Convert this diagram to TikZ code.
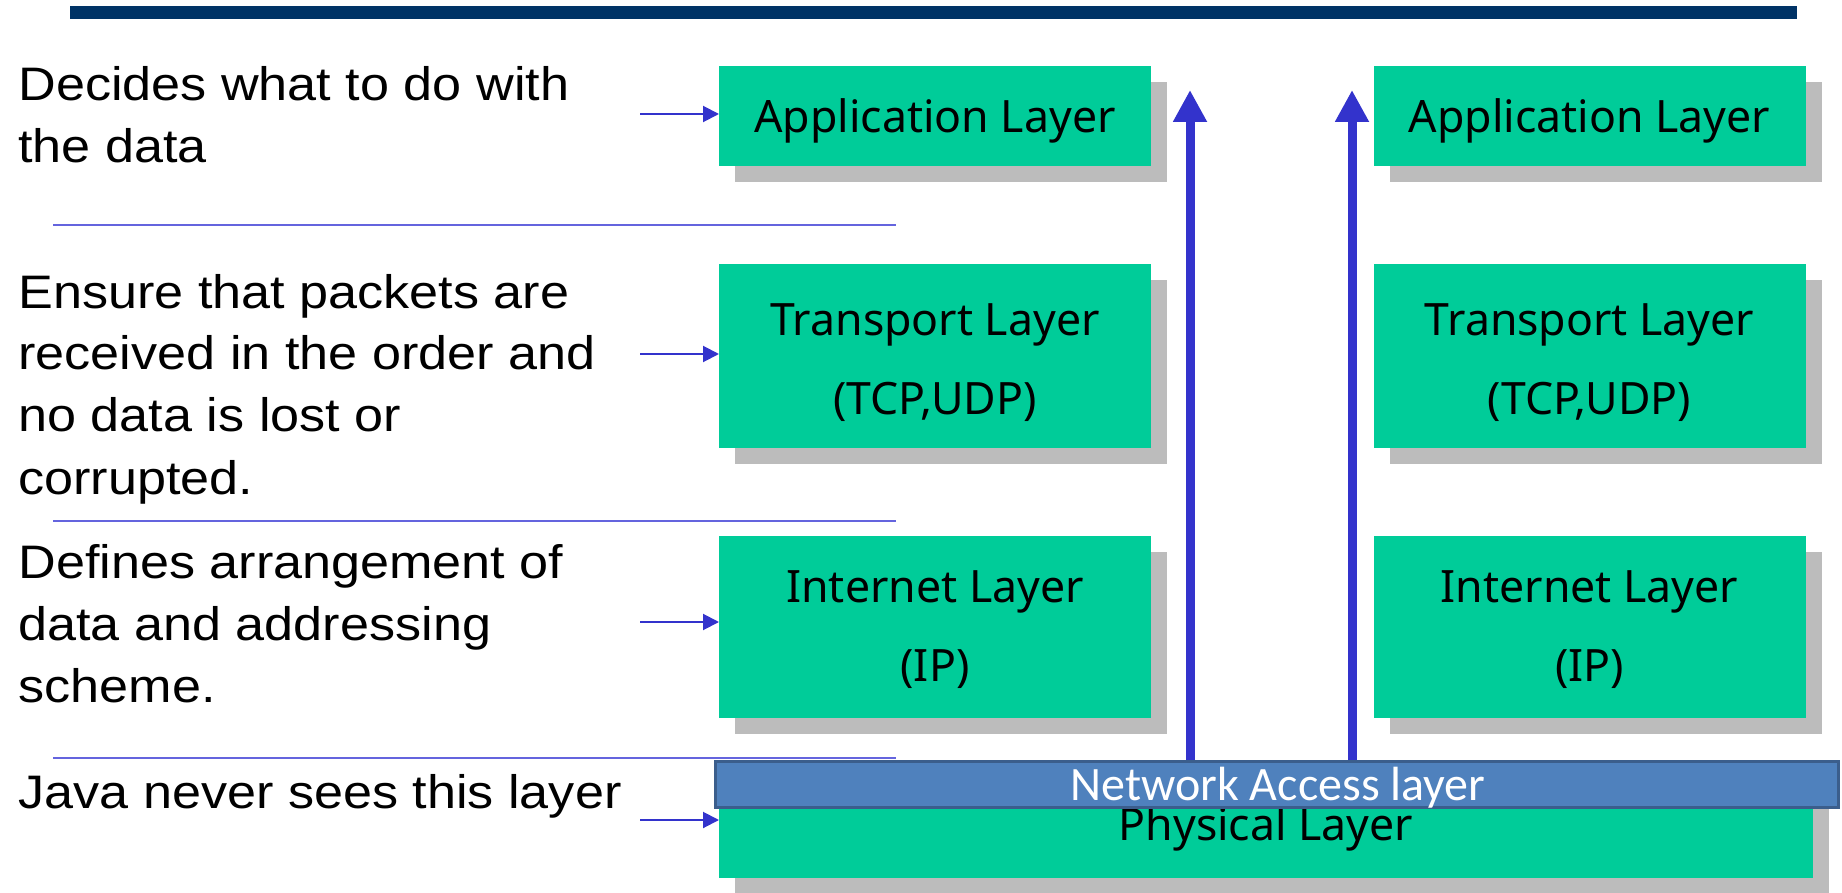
\documentclass[tikz,border=0pt]{standalone}
\usepackage{fontspec}
\usetikzlibrary{shadows,arrows.meta,calc}
\newfontfamily\notefont[FakeStretch=1.11]{Liberation Sans}
\newfontfamily\boxfont{Noto Sans}
\newfontfamily\netfont{Carlito}
\definecolor{headerblue}{HTML}{003366}
\definecolor{layergreen}{HTML}{00CC99}
\definecolor{shadowgray}{HTML}{BCBCBC}
\definecolor{netfill}{HTML}{4F81BD}
\definecolor{netline}{HTML}{3B5E8C}
\definecolor{arrowblue}{HTML}{3333CC}
\definecolor{rulecolor}{HTML}{6464DE}
\begin{document}
\begin{tikzpicture}[x=0.5pt,y=-0.5pt,
  layer/.style={fill=layergreen, inner sep=0pt, outer sep=0pt,
    general shadow={fill=shadowgray, shadow xshift=8pt, shadow yshift=-8pt}},
  stackbox/.style={layer, minimum width=216pt},
  boxtext/.style={font=\boxfont\fontsize{22.3}{39.5}\selectfont, align=center, anchor=base, inner sep=0pt},
  note/.style={font=\notefont\fontsize{23.5}{31}\selectfont, align=left, anchor=base west, inner sep=0pt},
  ptr/.style={draw=arrowblue, line width=1pt, -{Triangle[length=8pt,width=8pt]}},
  uparrow/.style={draw=arrowblue, line width=4.5pt, -{Triangle[length=16pt,width=16pt]}},
  rule/.style={draw=rulecolor, line width=1pt}]

\path[use as bounding box] (0,0) rectangle (1842,893);

% title bar
\fill[headerblue] (70,6) rectangle (1797,19);

% separators between the descriptions
\draw[rule] (53,225) -- (896,225);
\draw[rule] (53,521) -- (896,521);
\draw[rule] (53,758) -- (896,758);

% descriptions (placed by the baseline of their last line)
\node[note] (n1) at (18,163) {Decides what to do with\\the data};
\node[note] (n2) at (18,494) {Ensure that packets are\\received in the order and\\no data is lost or\\corrupted.};
\node[note] (n3) at (18,702) {Defines arrangement of\\data and addressing\\scheme.};
\node[note] (n4) at (18,808) {Java never sees this layer};

% left stack
\node[stackbox, minimum height=50pt] (appL) at (935,116) {};
\node[stackbox, minimum height=92pt] (trL) at (935,356) {};
\node[stackbox, minimum height=91pt] (inL) at (935,627) {};
% right stack
\node[stackbox, minimum height=50pt] (appR) at (1589.5,116) {};
\node[stackbox, minimum height=92pt] (trR) at (1589.5,356) {};
\node[stackbox, minimum height=91pt] (inR) at (1589.5,627) {};
% shared physical layer
\node[layer, minimum width=547pt, minimum height=54pt] (phys) at (1266,824) {};

\node[boxtext] (appLt) at (935,133) {Application Layer};
\node[boxtext] (trLt) at (935,414) {Transport Layer\\(TCP,UDP)};
\node[boxtext] (inLt) at (935,681) {Internet Layer\\(IP)};
\node[boxtext] (appRt) at (1589.5,133) {Application Layer};
\node[boxtext] (trRt) at (1589.5,414) {Transport Layer\\(TCP,UDP)};
\node[boxtext] (inRt) at (1589.5,681) {Internet Layer\\(IP)};
\node[boxtext] (physt) at (1266,840) {Physical Layer};

% pointers from the descriptions
\coordinate (p1) at (640,114);
\coordinate (p2) at (640,354);
\coordinate (p3) at (640,622);
\coordinate (p4) at (640,820);
\draw[ptr] (p1) -- (p1 -| appL.west);
\draw[ptr] (p2) -- (p2 -| trL.west);
\draw[ptr] (p3) -- (p3 -| inL.west);
\draw[ptr] (p4) -- (p4 -| phys.west);

% network access bar
\node[fill=netfill, draw=netline, line width=1.5pt, inner sep=0pt,
  minimum width=561.5pt, minimum height=23pt] (net) at (1277,784.5) {};
\node[font=\netfont\fontsize{24}{28}\selectfont, text=white, anchor=base, inner sep=0pt] (nett) at (1278,800) {Network Access layer};

% data flow up both stacks
\coordinate (t1) at (1190,90);
\coordinate (t2) at (1352,90);
\draw[uparrow] (t1 |- net.north) -- (t1);
\draw[uparrow] (t2 |- net.north) -- (t2);
\end{tikzpicture}
\end{document}
